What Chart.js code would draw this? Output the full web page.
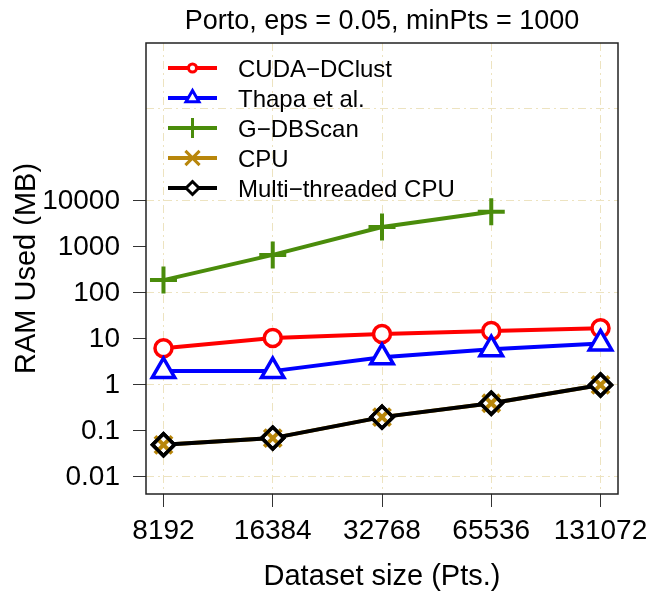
<!DOCTYPE html>
<html>
<head>
<meta charset="utf-8">
<title>RAM used, Porto</title>
<script src="https://cdn.jsdelivr.net/npm/chart.js@4/dist/chart.umd.min.js"></script>
<style>
  html, body { margin: 0; padding: 0; background: #fff; }
  #wrap { width: 648px; height: 594px; position: relative; }
</style>
</head>
<body>
<div id="wrap"><canvas id="ramChart"></canvas></div>
<script>
// Dataset sizes on the x axis and RAM (MB) per implementation
const datasetSizes = ['8192', '16384', '32768', '65536', '131072'];
const cudaDclust = [6.3, 10.5, 12.8, 14.9, 17];
const thapa = [2, 2, 4, 6, 8];
const gDbscan = [190, 670, 2700, 5800, null];
const cpu = [0.05, 0.07, 0.2, 0.4, 1];
const multiCpu = [0.05, 0.07, 0.2, 0.4, 1];

// Log axis: labelled decades, and the decades that get a grid line
const yTickValues = [0.01, 0.1, 1, 10, 100, 1000, 10000];
const yTickLabels = ['0.01', '0.1', '1', '10', '100', '1000', '10000'];
const yGridValues = [0.01, 1, 100, 10000, 1000000];

const FONT = "'Liberation Sans', Arial, Helvetica, sans-serif";
const GRID = '#ede3c0';
const DASH = [8, 4, 2, 4];
const GOLD = '#b8860b';
const GREEN = '#4a8c0b';

Chart.defaults.font.family = FONT;
Chart.defaults.color = '#000';

function toPoints(values) {
  return values
    .map((v, i) => (v == null ? null : { x: i, y: v }))
    .filter(p => p !== null);
}

// legend rows: name, colour, marker style, marker radius, filled white?
const legendRows = [
  { name: 'CUDA\u2212DClust', color: '#ff0000', style: 'circle', r: 4, fill: true },
  { name: 'Thapa et al.', color: '#0000ff', style: 'triangle', r: 7.5, fill: true },
  { name: 'G\u2212DBScan', color: GREEN, style: 'cross', r: 10, fill: false },
  { name: 'CPU', color: GOLD, style: 'crossRot', r: 10, fill: false },
  { name: 'Multi\u2212threaded CPU', color: '#000', style: 'rectRot', r: 6.5, fill: true }
];

function markerPath(ctx, style, x, y, r) {
  ctx.beginPath();
  if (style === 'circle') {
    ctx.arc(x, y, r, 0, Math.PI * 2);
  } else if (style === 'triangle') {
    const s = Math.sin(Math.PI / 3) * r;
    ctx.moveTo(x, y - r);
    ctx.lineTo(x + s, y + r / 2);
    ctx.lineTo(x - s, y + r / 2);
    ctx.closePath();
  } else if (style === 'rectRot') {
    ctx.moveTo(x - r, y);
    ctx.lineTo(x, y - r);
    ctx.lineTo(x + r, y);
    ctx.lineTo(x, y + r);
    ctx.closePath();
  } else if (style === 'cross') {
    ctx.moveTo(x, y - r); ctx.lineTo(x, y + r);
    ctx.moveTo(x - r, y); ctx.lineTo(x + r, y);
  } else if (style === 'crossRot') {
    const d = r * Math.SQRT1_2;
    ctx.moveTo(x - d, y - d); ctx.lineTo(x + d, y + d);
    ctx.moveTo(x + d, y - d); ctx.lineTo(x - d, y + d);
  }
}

// Title, plot frame and the in-plot legend
const decorations = {
  id: 'decorations',
  afterDraw(chart) {
    const ctx = chart.ctx;
    const area = chart.chartArea;
    ctx.save();

    ctx.fillStyle = '#000';
    ctx.font = '27px ' + FONT;
    ctx.textAlign = 'center';
    ctx.textBaseline = 'middle';
    ctx.fillText('Porto, eps = 0.05, minPts = 1000', (area.left + area.right) / 2, 22);

    ctx.strokeStyle = '#222';
    ctx.lineWidth = 1.5;
    ctx.strokeRect(area.left, area.top, area.right - area.left, area.bottom - area.top);

    const x0 = area.left + 22, x1 = area.left + 71, xm = (x0 + x1) / 2;
    legendRows.forEach((row, i) => {
      const y = area.top + 25 + i * 30;
      ctx.strokeStyle = row.color;
      ctx.lineWidth = 4;
      ctx.beginPath();
      ctx.moveTo(x0, y);
      ctx.lineTo(x1, y);
      ctx.stroke();

      ctx.lineWidth = 3;
      markerPath(ctx, row.style, xm, y, row.r);
      if (row.fill) {
        ctx.fillStyle = '#fff';
        ctx.fill();
      }
      ctx.stroke();

      ctx.fillStyle = '#000';
      ctx.font = '24px ' + FONT;
      ctx.textAlign = 'left';
      ctx.textBaseline = 'middle';
      ctx.fillText(row.name, area.left + 92, y + 2);
    });
    ctx.restore();
  }
};

const ctx = document.getElementById('ramChart').getContext('2d');
new Chart(ctx, {
  type: 'line',
  data: {
    datasets: [
      {
        label: 'CUDA-DClust', data: toPoints(cudaDclust), order: 6,
        borderColor: '#ff0000', borderWidth: 4,
        pointStyle: 'circle', pointRadius: 8.5, pointBorderWidth: 3.5,
        pointBorderColor: '#ff0000', pointBackgroundColor: '#fff'
      },
      {
        label: 'Thapa et al.', data: toPoints(thapa), order: 5,
        borderColor: '#0000ff', borderWidth: 4,
        pointStyle: 'triangle', pointRadius: 13, pointBorderWidth: 3.5,
        pointBorderColor: '#0000ff', pointBackgroundColor: '#fff'
      },
      {
        label: 'G-DBScan', data: toPoints(gDbscan), order: 4,
        borderColor: GREEN, borderWidth: 4,
        pointStyle: 'cross', pointRadius: 13.5, pointBorderWidth: 4,
        pointBorderColor: GREEN
      },
      {
        // CPU line sits under the multi-threaded line
        label: 'CPU', data: toPoints(cpu), order: 3,
        borderColor: GOLD, borderWidth: 4, pointRadius: 0
      },
      {
        label: 'Multi-threaded CPU', data: toPoints(multiCpu), order: 2,
        borderColor: '#000', borderWidth: 4,
        pointStyle: 'rectRot', pointRadius: 11, pointBorderWidth: 3.5,
        pointBorderColor: '#000', pointBackgroundColor: '#fff'
      },
      {
        label: 'CPU markers', data: toPoints(cpu), order: 1, showLine: false,
        pointStyle: 'crossRot', pointRadius: 12, pointBorderWidth: 4,
        pointBorderColor: GOLD
      },
      {
        label: 'Multi-threaded markers', data: toPoints(multiCpu), order: 0, showLine: false,
        pointStyle: 'rectRot', pointRadius: 11, pointBorderWidth: 3.5,
        pointBorderColor: '#000', pointBackgroundColor: 'rgba(0,0,0,0)'
      }
    ]
  },
  options: {
    responsive: true,
    maintainAspectRatio: false,
    animation: false,
    layout: { padding: { top: 43, right: 30, left: 0, bottom: 0 } },
    elements: { line: { tension: 0 } },
    plugins: {
      legend: { display: false },
      tooltip: { enabled: false }
    },
    scales: {
      x: {
        type: 'linear',
        min: -0.16,
        max: 4.16,
        afterBuildTicks: (scale) => {
          scale.ticks = datasetSizes.map((_, i) => ({ value: i }));
        },
        afterFit: (scale) => {
          scale.height = 100;
          scale.paddingLeft = 0;
          scale.paddingRight = 0;
        },
        ticks: {
          autoSkip: false, maxRotation: 0, padding: 7,
          font: { size: 28 }, color: '#000',
          callback: (v) => datasetSizes[v]
        },
        grid: { color: GRID, lineWidth: 1, tickColor: '#333', tickLength: 13 },
        border: { display: false, dash: DASH },
        title: {
          display: true, text: 'Dataset size (Pts.)',
          font: { size: 29 }, color: '#000', padding: { top: 0, bottom: 0 }
        }
      },
      y: {
        type: 'logarithmic',
        min: 0.00427,
        max: 2.7e7,
        afterBuildTicks: (scale) => {
          scale.ticks = yTickValues.concat([100000, 1000000]).map(v => ({ value: v }));
        },
        afterFit: (scale) => {
          scale.width = 146;
          scale.paddingTop = 0;
          scale.paddingBottom = 0;
        },
        ticks: {
          autoSkip: false, padding: 13,
          font: { size: 28 }, color: '#000',
          callback: (v) => {
            const i = yTickValues.indexOf(v);
            return i >= 0 ? yTickLabels[i] : '';
          }
        },
        grid: {
          lineWidth: 1, tickLength: 13,
          color: (c) => (c.tick && yGridValues.includes(c.tick.value) ? GRID : 'rgba(0,0,0,0)'),
          tickColor: (c) => (c.tick && yTickValues.includes(c.tick.value) ? '#333' : 'rgba(0,0,0,0)')
        },
        border: { display: false, dash: DASH },
        title: {
          display: true, text: 'RAM Used (MB)',
          font: { size: 29 }, color: '#000', padding: { top: 10, bottom: 0 }
        }
      }
    }
  },
  plugins: [decorations]
});
</script>
</body>
</html>
